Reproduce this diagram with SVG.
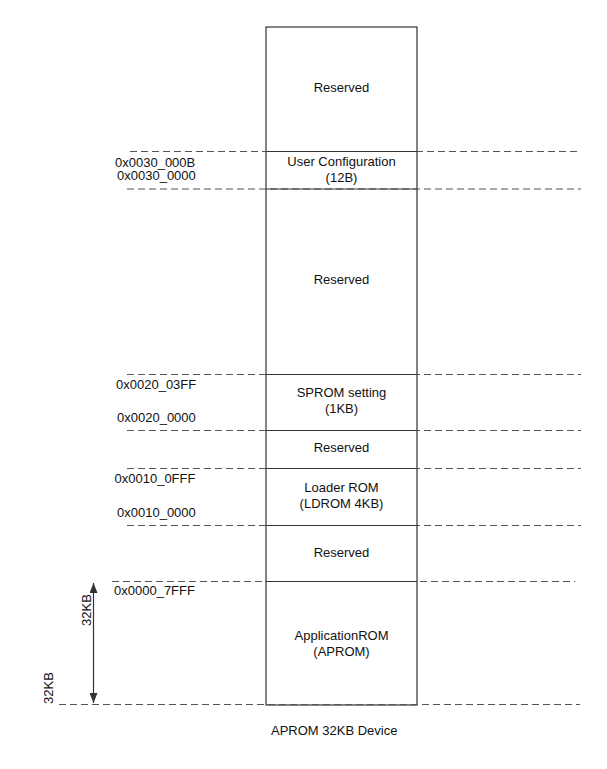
<svg xmlns="http://www.w3.org/2000/svg" width="607" height="769" viewBox="0 0 607 769">
<style>
  text { font-family: "Liberation Sans", Arial, sans-serif; font-size: 13px; fill: #111; }
  .c { text-anchor: middle; }
  .box { fill: #fff; stroke: #333; stroke-width: 1.2; }
  .div { stroke: #333; stroke-width: 1.2; }
  .dash { stroke: #555; stroke-width: 1; stroke-dasharray: 7 4; fill: none; }
  .arr { stroke: #333; stroke-width: 1.2; fill: none; }
</style>
<defs>
  <marker id="ah" viewBox="0 0 10 8" refX="10" refY="4" markerWidth="10" markerHeight="8" markerUnits="userSpaceOnUse" orient="auto-start-reverse">
    <path d="M0,0 L10,4 L0,8 Z" fill="#333"/>
  </marker>
</defs>
<rect width="607" height="769" fill="#fff"/>
<g id="memory-column">
  <rect class="box" x="266" y="27" width="151" height="678"/>
</g>
<g id="guides">
  <line class="dash" x1="130" y1="151.5" x2="581" y2="151.5"/>
  <line class="dash" x1="127" y1="189" x2="581" y2="189"/>
  <line class="dash" x1="127" y1="374.5" x2="581" y2="374.5"/>
  <line class="dash" x1="127" y1="430.5" x2="581" y2="430.5"/>
  <line class="dash" x1="127" y1="468.5" x2="581" y2="468.5"/>
  <line class="dash" x1="127" y1="525.5" x2="581" y2="525.5"/>
  <line class="dash" x1="112" y1="581.5" x2="575" y2="581.5"/>
  <line class="dash" x1="59" y1="704.5" x2="580" y2="704.5"/>
</g>
<g id="region-reserved-top">
  <text class="c" x="341.5" y="92">Reserved</text>
</g>
<g id="region-user-config">
  <line class="div" x1="266" y1="151.5" x2="417" y2="151.5"/>
  <line class="div" x1="266" y1="189" x2="417" y2="189"/>
  <text class="c" x="341.5" y="166">User Configuration</text>
  <text class="c" x="341.5" y="182">(12B)</text>
</g>
<g id="region-reserved-2">
  <text class="c" x="341.5" y="284">Reserved</text>
</g>
<g id="region-sprom">
  <line class="div" x1="266" y1="374.5" x2="417" y2="374.5"/>
  <line class="div" x1="266" y1="430.5" x2="417" y2="430.5"/>
  <text class="c" x="341.5" y="397">SPROM setting</text>
  <text class="c" x="341.5" y="413">(1KB)</text>
</g>
<g id="region-reserved-3">
  <text class="c" x="341.5" y="452">Reserved</text>
</g>
<g id="region-ldrom">
  <line class="div" x1="266" y1="468.5" x2="417" y2="468.5"/>
  <line class="div" x1="266" y1="525.5" x2="417" y2="525.5"/>
  <text class="c" x="341.5" y="492">Loader ROM</text>
  <text class="c" x="341.5" y="508">(LDROM 4KB)</text>
</g>
<g id="region-reserved-4">
  <text class="c" x="341.5" y="557">Reserved</text>
</g>
<g id="region-aprom">
  <line class="div" x1="266" y1="581.5" x2="417" y2="581.5"/>
  <text class="c" x="341.5" y="640">ApplicationROM</text>
  <text class="c" x="341.5" y="656">(APROM)</text>
</g>
<g id="address-labels">
  <text x="115" y="166.5">0x0030_000B</text>
  <text x="117" y="180">0x0030_0000</text>
  <text x="116" y="389">0x0020_03FF</text>
  <text x="117" y="421.5">0x0020_0000</text>
  <text x="114.5" y="483">0x0010_0FFF</text>
  <text x="117" y="516.5">0x0010_0000</text>
  <text x="114" y="595">0x0000_7FFF</text>
</g>
<g id="connectors">
  <line class="arr" x1="93.5" y1="703" x2="93.5" y2="583" marker-end="url(#ah)" marker-start="url(#ah)"/>
</g>
<g id="size-labels">
  <text class="c" transform="translate(91,610) rotate(-90)">32KB</text>
  <text class="c" transform="translate(53,688) rotate(-90)">32KB</text>
</g>
<g id="caption">
  <text x="271" y="735">APROM 32KB Device</text>
</g>
</svg>
